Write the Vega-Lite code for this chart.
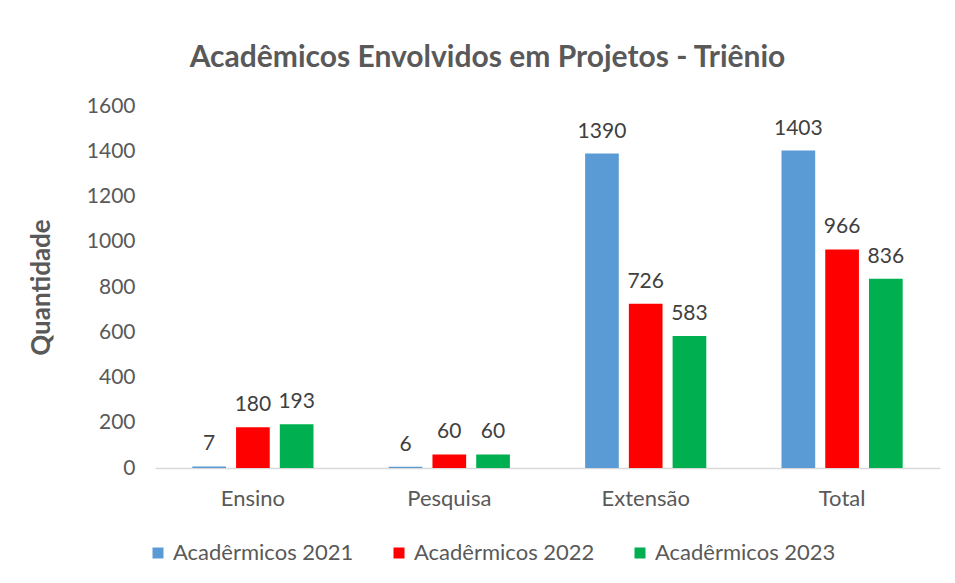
{
  "$schema": "https://vega.github.io/schema/vega-lite/v6.json",
  "autosize": "none",
  "width": 785,
  "height": 362,
  "padding": {"left": 155, "top": 106, "right": 15, "bottom": 115},
  "background": "white",
  "config": {
    "font": "Lato",
    "view": {"stroke": null}
  },
  "title": {
    "text": "Acadêmicos Envolvidos em Projetos - Triênio",
    "fontSize": 30,
    "fontWeight": "bold",
    "color": "#595959",
    "anchor": "middle",
    "dx": -60,
    "offset": 22
  },
  "data": {
    "values": [
      {"categoria": "Ensino", "serie": "Acadêrmicos 2021", "valor": 7},
      {"categoria": "Ensino", "serie": "Acadêrmicos 2022", "valor": 180},
      {"categoria": "Ensino", "serie": "Acadêrmicos 2023", "valor": 193},
      {"categoria": "Pesquisa", "serie": "Acadêrmicos 2021", "valor": 6},
      {"categoria": "Pesquisa", "serie": "Acadêrmicos 2022", "valor": 60},
      {"categoria": "Pesquisa", "serie": "Acadêrmicos 2023", "valor": 60},
      {"categoria": "Extensão", "serie": "Acadêrmicos 2021", "valor": 1390},
      {"categoria": "Extensão", "serie": "Acadêrmicos 2022", "valor": 726},
      {"categoria": "Extensão", "serie": "Acadêrmicos 2023", "valor": 583},
      {"categoria": "Total", "serie": "Acadêrmicos 2021", "valor": 1403},
      {"categoria": "Total", "serie": "Acadêrmicos 2022", "valor": 966},
      {"categoria": "Total", "serie": "Acadêrmicos 2023", "valor": 836}
    ]
  },
  "encoding": {
    "x": {
      "field": "categoria",
      "type": "nominal",
      "sort": ["Ensino", "Pesquisa", "Extensão", "Total"],
      "scale": {"paddingInner": 0.383, "paddingOuter": 0.19},
      "axis": {
        "title": null,
        "labelAngle": 0,
        "labelFontSize": 22,
        "labelColor": "#595959",
        "labelPadding": 20,
        "ticks": false,
        "domainColor": "#d9d9d9",
        "domainWidth": 1.5
      }
    },
    "xOffset": {
      "field": "serie",
      "type": "nominal",
      "scale": {"paddingInner": 0.23, "paddingOuter": 0}
    },
    "y": {
      "field": "valor",
      "type": "quantitative",
      "scale": {"domain": [0, 1600], "nice": false},
      "axis": {
        "title": "Quantidade",
        "titleFontSize": 26,
        "titleFontWeight": "bold",
        "titleColor": "#595959",
        "titlePadding": 32,
        "format": "d",
        "values": [0, 200, 400, 600, 800, 1000, 1200, 1400, 1600],
        "labelFontSize": 21,
        "labelColor": "#595959",
        "labelPadding": 20,
        "ticks": false,
        "domain": false,
        "grid": false
      }
    }
  },
  "layer": [
    {
      "mark": {"type": "bar"},
      "encoding": {
        "color": {
          "field": "serie",
          "type": "nominal",
          "scale": {
            "domain": ["Acadêrmicos 2021", "Acadêrmicos 2022", "Acadêrmicos 2023"],
            "range": ["#5B9BD5", "#FF0000", "#00B050"]
          },
          "legend": {
            "title": null,
            "orient": "none",
            "direction": "horizontal",
            "legendX": -8,
            "legendY": 436,
            "symbolType": "square",
            "symbolSize": 121,
            "symbolStrokeWidth": 0,
            "labelFontSize": 22,
            "labelLimit": 0,
            "labelColor": "#595959",
            "labelOffset": 4,
            "columnPadding": 34
          }
        }
      }
    },
    {
      "mark": {"type": "text", "baseline": "bottom", "dy": -12, "fontSize": 21, "color": "#404040"},
      "encoding": {
        "text": {"field": "valor", "type": "quantitative"}
      }
    }
  ]
}
